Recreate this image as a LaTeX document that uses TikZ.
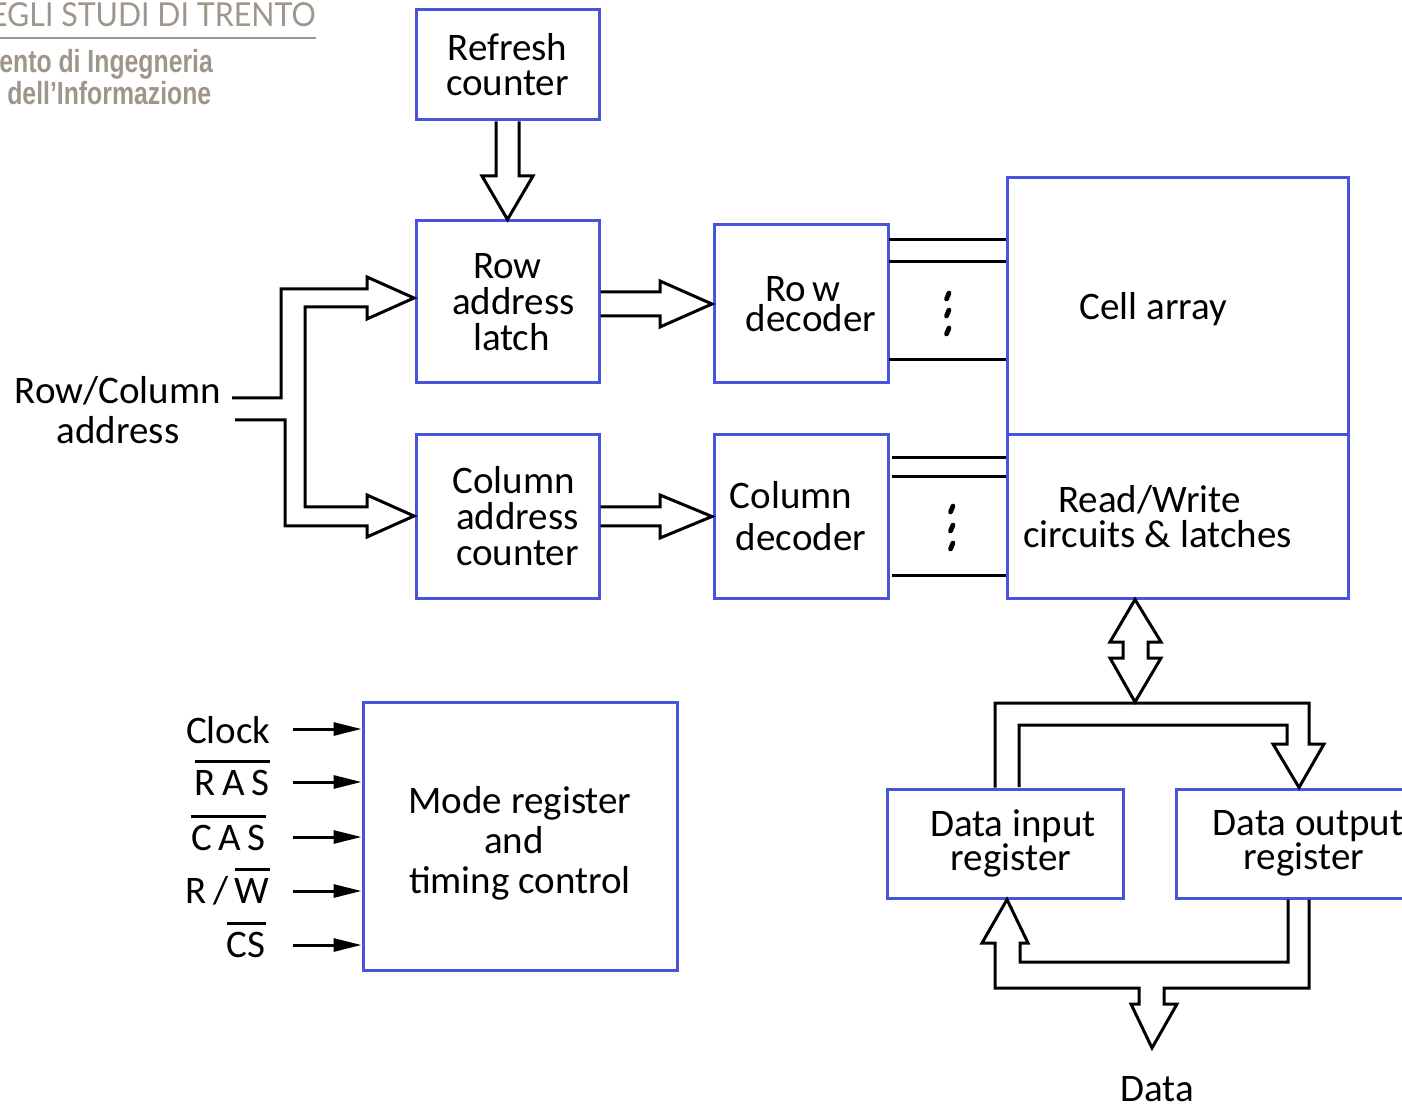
\documentclass[tikz,border=0pt]{standalone}
\usepackage{fontspec}
\setmainfont{Carlito}
\newfontfamily\logofont{Lato}
\newfontfamily\logobold{Liberation Sans}
\usetikzlibrary{arrows.meta,calc}
\definecolor{boxblue}{RGB}{72,84,222}
\definecolor{logogray}{RGB}{158,150,138}
% active-low signal name: a bar drawn above the text
\newcommand\barred[1]{\setbox0\hbox{#1}\rlap{\rule[0.82em]{\wd0}{1.5pt}}\box0}

\begin{document}
\begin{tikzpicture}[x=0.5pt,y=-0.5pt,
  blk/.style={draw=boxblue,line width=1.5pt,inner sep=0pt,align=center,
              font=\fontsize{19.5}{17.5}\selectfont},
  txt/.style={inner sep=0pt,align=center,font=\fontsize{19.5}{17.5}\selectfont},
  bus/.style={draw=black,line width=1.5pt,line join=miter},
  wire/.style={draw=black,line width=1.5pt},
  dotmark/.style={line width=2.4pt,line cap=round},
  sig/.style={line width=1.5pt,-{Triangle[length=14pt,width=6.5pt]}},
  ctl/.style={inner sep=0pt,font=\fontsize{19.5}{19.5}\selectfont},
  logo/.style={inner sep=0pt,text=logogray}]

\useasboundingbox (0,0) rectangle (1402,1106);

% ---- header ----
\node[logo,anchor=base east,xscale=0.92,font=\logofont\fontsize{16.5}{16.5}\selectfont] (uni) at (316,27) {EGLI STUDI DI TRENTO};
\draw[logogray,line width=1pt] (0,38) -- (316,38);
\node[logo,anchor=base west,xscale=0.775,font=\logobold\bfseries\fontsize{16}{16}\selectfont] (dep1) at (-1,73) {ento di Ingegneria};
\node[logo,anchor=base west,xscale=0.775,font=\logobold\bfseries\fontsize{16}{16}\selectfont] (dep2) at (7,105) {dell’Informazione};

% ---- blocks ----
\node[blk,minimum width=91.5pt,minimum height=55pt] (refresh) at (507.5,65) {Refresh\\counter};
\node[blk,minimum width=91.5pt,minimum height=81pt,font=\fontsize{19.5}{18}\selectfont] (latch) at (507.5,302) {Row\\\hspace*{6pt}address\\\hspace*{4pt}latch};
\node[blk,minimum width=91.5pt,minimum height=81.5pt,font=\fontsize{19.5}{18}\selectfont] (colcnt) at (507.5,516.5) {\hspace*{6pt}Column\\\hspace*{10pt}address\\\hspace*{10pt}counter};
\node[blk,minimum width=87pt,minimum height=79pt,font=\fontsize{19.5}{15}\selectfont] (rowdec) at (801,304) {\hspace*{2pt}Ro\kern3pt w\\\hspace*{10pt}decoder};
\node[blk,minimum width=87pt,minimum height=81.5pt,font=\fontsize{19.5}{21}\selectfont] (coldec) at (801,516.5) {\hspace*{-10pt}Column\\decoder};
\node[blk,minimum width=170.5pt,minimum height=128.5pt,
      label={[txt,xshift=-12pt,yshift=-1.5pt]center:Cell array}] (cells) at (1177.5,306.5) {};
\node[blk,minimum width=170.5pt,minimum height=81.5pt,
      label={[txt,xshift=-10pt]center:\hspace*{-8pt}Read/Write\\circuits \& latches}] (rw) at (1177.5,516.5) {};
\node[blk,minimum width=157pt,minimum height=134pt,
      label={[txt,yshift=-3.5pt,font=\fontsize{19.5}{20}\selectfont]center:Mode register\\\hspace*{-6pt}and\\timing control}] (mode) at (520,836) {};
\node[blk,minimum width=118pt,minimum height=54.5pt,font=\fontsize{19.5}{17}\selectfont] (din) at (1005,843.5) {\hspace*{8pt}Data input\\\hspace*{6pt}register};
\node[blk,minimum width=128pt,minimum height=54.5pt,font=\fontsize{19.5}{17}\selectfont] (dout) at (1304,843.5) {\hspace*{4pt}Data output\\register};

% ---- external labels ----
\node[txt,font=\fontsize{19.5}{20}\selectfont] (addr) at (118,410) {Row/Column\\address};
\node[anchor=base,inner sep=0pt,font=\fontsize{19.5}{19.5}\selectfont] (data) at (1157,1101) {Data};

\node[ctl,anchor=base east] (clk) at (271,743) {Clock};
\node[ctl,anchor=base east] (ras) at (270,795) {\barred{R\,A\,S}};
\node[ctl,anchor=base east] (cas) at (266,850) {\barred{C\,A\,S}};
\node[ctl,anchor=base east] (rw_) at (270,903) {R\,/\,\barred{W}};
\node[ctl,anchor=base east] (cs) at (266,957) {\barred{CS}};

% ---- control inputs ----
\foreach \y/\n in {729/a,782/b,837/c,891/d,945/e}{
  \coordinate (s\n) at (293,\y);
  \draw[sig] (s\n) -- (s\n -| mode.west);
}

% ---- refresh counter to row latch ----
\draw[bus] ($(refresh.south)+(-11.5,0)$) -- (496,176) -- (482,176) -- (latch.north)
           -- (533,176) -- (519,176) -- ($(refresh.south)+(11.5,0)$);

% ---- address bus split to row latch and column counter ----
\draw[bus] (232,398) -- (281,398) -- (281,289) -- (367,289) -- (367,277) -- (414,298)
           -- (367,319) -- (367,307) -- (305,307) -- (305,507) -- (367,507) -- (367,495)
           -- (414,516) -- (367,537) -- (367,526) -- (285,526) -- (285,420) -- (235,420);

% ---- latch / counter to decoders ----
\draw[bus] (latch.east |- 0,292) -- (660,292) -- (660,281) -- (712,304) -- (660,327)
           -- (660,316) -- (latch.east |- 0,316);
\draw[bus] (colcnt.east |- 0,507) -- (660,507) -- (660,495) -- (712,516.5) -- (660,538)
           -- (660,526) -- (colcnt.east |- 0,526);

% ---- decoder outputs ----
\foreach \y in {240,262,360}{\draw[wire] (889,\y) -- (cells.west |- 0,\y);}
\foreach \y in {458,477,575}{\draw[wire] (892,\y) -- (rw.west |- 0,\y);}
\foreach \y in {296,313,331}{\draw[dotmark] (949,\y-3) -- (946.5,\y+3);}
\foreach \y in {509,528,546}{\draw[dotmark] (953,\y-3) -- (950.5,\y+3);}

% ---- read/write circuits to data registers ----
\draw[bus] (rw.south -| 1135,0) -- (1161,642) -- (1148,642) -- (1148,658) -- (1161,658)
           -- (1135,702) -- (1110,658) -- (1123,658) -- (1123,642) -- (1110,642) -- cycle;
\draw[bus] (din.north -| 995,0) -- (995,703) -- (1309,703) -- (1309,744) -- (1324,744)
           -- (dout.north -| 1299,0) -- (1273,744) -- (1287,744) -- (1287,725) -- (1019,725)
           -- (1019,787);

% ---- data registers to data pins ----
\draw[bus] (dout.south -| 1309,0) -- (1309,988) -- (1164,988) -- (1164,1004) -- (1177,1004)
           -- (1152,1048) -- (1131,1004) -- (1139,1004) -- (1139,988) -- (995,988) -- (995,943)
           -- (982,943) -- (din.south -| 1007,0) -- (1028,943) -- (1020,943) -- (1020,962)
           -- (1288,962) -- (dout.south -| 1288,0);
\end{tikzpicture}
\end{document}
